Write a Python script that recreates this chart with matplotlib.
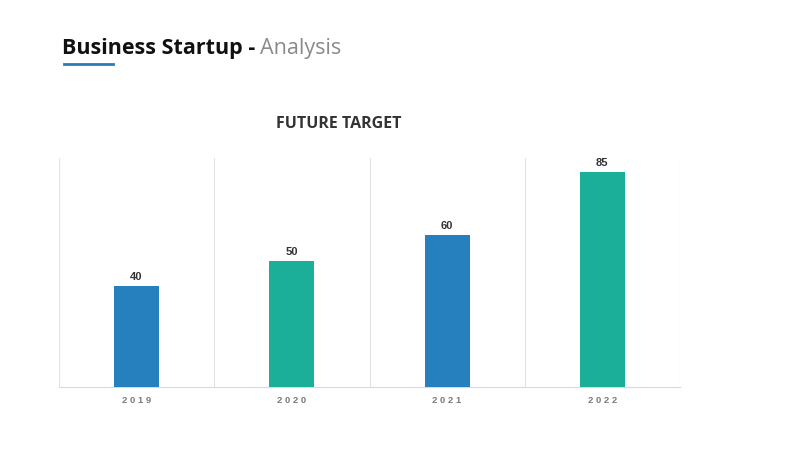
import numpy as np
import matplotlib.pyplot as plt

years = ['2019', '2020', '2021', '2022']
targets = [40, 50, 60, 85]
bar_colors = ['#2680BE', '#1BAE98', '#2680BE', '#1BAE98']

fig = plt.figure(figsize=(8, 4.5), dpi=100)
ax = fig.add_axes([0.07375, 0.14, 0.77625, 0.509])

x = np.arange(len(years))
bars = ax.bar(x, targets, width=0.29, color=bar_colors, zorder=3)

for b, v in zip(bars, targets):
    ax.annotate(str(v), (b.get_x() + b.get_width() / 2, v),
                xytext=(0, 3), textcoords='offset points',
                ha='center', va='bottom', fontsize=8,
                fontweight='bold', color='#333333', family='Liberation Sans')

ax.set_xlim(-0.5, len(years) - 0.5)
ax.set_ylim(0, 90.7)

# vertical separators between categories
for sep in np.arange(-0.5, len(years), 1.0):
    ax.axvline(sep, color='#e3e3e3', lw=0.8, zorder=1)

for s in ['top', 'left', 'right']:
    ax.spines[s].set_visible(False)
ax.spines['bottom'].set_color('#d9d9d9')
ax.spines['bottom'].set_linewidth(0.8)
ax.set_yticks([])
ax.set_xticks(x)
ax.set_xticklabels([' '.join(y) for y in years], fontsize=6.8,
                   fontweight='bold', color='#7a7a7a', family='Liberation Sans')
ax.tick_params(axis='x', length=0, pad=6.5)

fig.text(0.424, 0.725, 'FUTURE TARGET', ha='center', va='center',
         fontsize=11.5, fontweight='bold', color='#333333', family='Open Sans')

t1 = fig.text(0.077, 0.893, 'Business Startup - ', ha='left', va='center',
              fontsize=15.5, fontweight='bold', color='#111111', family='Open Sans')
fig.canvas.draw()
bb = t1.get_window_extent()
fig.text(bb.x1 / 800, 0.893, 'Analysis', ha='left', va='center',
         fontsize=15.5, color='#8a8a8a', family='Open Sans')

fig.add_artist(plt.Line2D([0.08, 0.141], [0.857, 0.857], color='#2A7AB8', lw=2))

fig.savefig('out.png', dpi=100, facecolor='white')
